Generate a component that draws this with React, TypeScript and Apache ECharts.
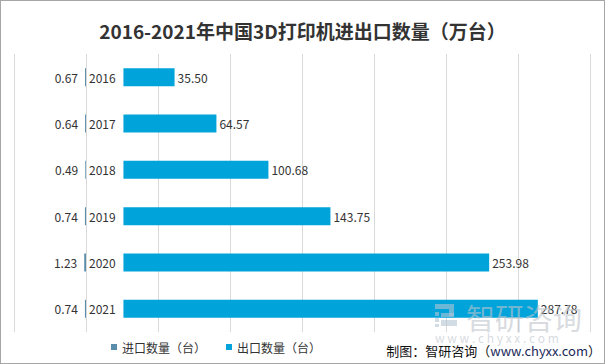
import React, { useEffect, useRef } from "react";
import * as echarts from "echarts";

const categories = ["2016", "2017", "2018", "2019", "2020", "2021"];
const importValues = [0.67, 0.64, 0.49, 0.74, 1.23, 0.74];
const exportValues = [35.5, 64.57, 100.68, 143.75, 253.98, 287.78];
const seriesNames = ["进口数量（台）", "出口数量（台）"];
const titleText = "2016-2021年中国3D打印机进出口数量（万台）";

const SPACER = 26; // room for year labels between the two sides
const FONT = "'Noto Sans CJK SC', 'Noto Sans', sans-serif";

export default function App() {
  const ref = useRef<HTMLDivElement>(null);

  useEffect(() => {
    document.body.style.margin = "0";
    const chart = echarts.init(ref.current!, null, { renderer: "svg" });
    const wm = "rgba(180,196,212,0.6)";
    const wmText = "rgba(190,196,204,0.62)";
    const r = (x: number, y: number, w: number, h: number) => ({
      type: "rect",
      z: 100,
      shape: { x, y, width: w, height: h },
      style: { fill: wm },
    });
    chart.setOption({
      animation: false,
      backgroundColor: "transparent",
      textStyle: { fontFamily: FONT },
      title: {
        text: titleText,
        left: "center",
        top: 16,
        textStyle: { fontSize: 19, fontWeight: "bold", color: "#333", fontFamily: FONT },
      },
      legend: {
        data: seriesNames,
        left: 106,
        top: 336,
        icon: "rect",
        itemWidth: 6,
        itemHeight: 6,
        itemGap: 20,
        textStyle: { fontSize: 12, color: "#333", fontFamily: FONT },
      },
      grid: { left: 14, right: 15, top: 54, bottom: 32, outerBoundsMode: "none" },
      xAxis: {
        type: "value",
        min: -50,
        max: 350,
        interval: 50,
        axisLabel: { show: false },
        axisLine: { show: false },
        axisTick: { show: false },
        splitLine: { lineStyle: { color: "#d9d9d9", width: 1 } },
      },
      yAxis: {
        type: "category",
        data: categories,
        inverse: true,
        axisLabel: { show: false },
        axisLine: { show: false },
        axisTick: { show: false },
      },
      series: [
        {
          name: seriesNames[0],
          type: "bar",
          stack: "all",
          barWidth: 18,
          data: importValues.map((v) => -v),
          itemStyle: { color: "#5a8dab" },
          label: {
            show: true,
            position: "left",
            distance: 7,
            fontSize: 12,
            color: "#333",
            formatter: (p: any) => Math.abs(p.value).toFixed(2),
          },
        },
        {
          name: "spacer",
          type: "bar",
          stack: "all",
          barWidth: 18,
          data: categories.map(() => SPACER),
          itemStyle: { color: "transparent" },
          emphasis: { disabled: true },
          label: {
            show: true,
            position: "insideLeft",
            distance: 3,
            fontSize: 12,
            color: "#333",
            formatter: (p: any) => p.name,
          },
        },
        {
          name: seriesNames[1],
          type: "bar",
          stack: "all",
          barWidth: 18,
          data: exportValues,
          itemStyle: { color: "#00a3da" },
          label: {
            show: true,
            position: "right",
            distance: 3,
            fontSize: 12,
            color: "#333",
            formatter: (p: any) => Number(p.value).toFixed(2),
          },
        },
      ],
      graphic: [
        {
          type: "group",
          left: 435,
          top: 302,
          z: 100,
          silent: true,
          children: [
            r(0, 2, 14, 5),
            r(14, 2, 5, 12),
            r(6, 11, 13, 4),
            r(6, 18, 16, 6),
            r(0, 10, 4, 4),
            r(0, 16, 4, 4),
            r(0, 22, 4, 3),
            {
              type: "text",
              z: 100,
              x: 31,
              y: 0,
              style: {
                text: "智研咨询",
                fontSize: 29,
                fill: wmText,
                fontFamily: FONT,
                verticalAlign: "top",
                align: "left",
              },
            },
            {
              type: "text",
              z: 100,
              x: 0,
              y: 29,
              style: {
                text: "w w w . c h y x x . c o m",
                fontSize: 12,
                fill: wmText,
                fontFamily: FONT,
                verticalAlign: "top",
                align: "left",
              },
            },
          ],
        },
        {
          type: "text",
          right: 4,
          top: 344,
          z: 101,
          style: {
            text: "{a|制图：智研咨询（}{b|www.chyxx.com}{a|）}",
            rich: {
              a: { fontSize: 13, fill: "#111", fontFamily: FONT },
              b: { fontSize: 13, fill: "#1a2a5a", fontFamily: FONT },
            },
          },
        },
      ],
    });
    return () => chart.dispose();
  }, []);

  return (
    <div
      ref={ref}
      style={{
        position: "fixed",
        left: 0,
        top: 0,
        width: 605,
        height: 364,
        background: "#fff",
        boxShadow: "inset 0 0 0 1px #a6a6a6",
      }}
    />
  );
}
